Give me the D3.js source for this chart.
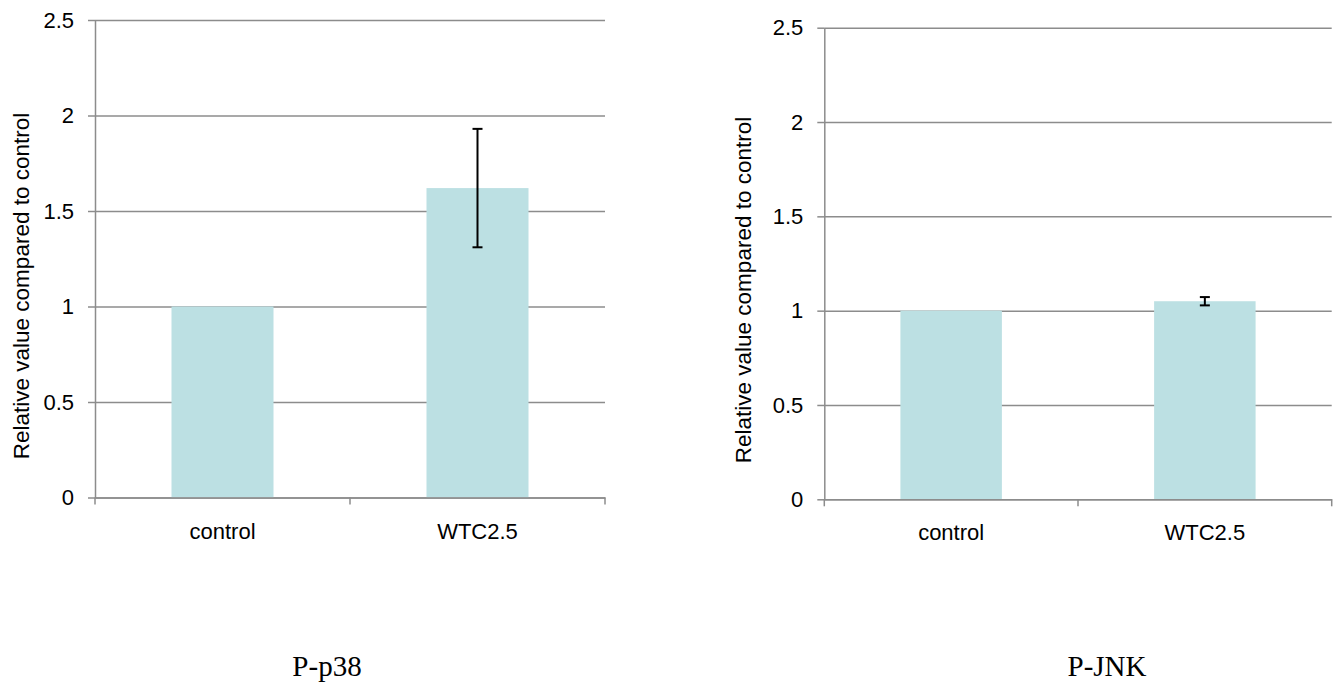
<!DOCTYPE html>
<html>
<head>
<meta charset="utf-8">
<script src="https://cdn.jsdelivr.net/npm/d3@7"></script>
<style>
  body { margin: 0; background: #fff; }
  .axis path, .axis line { stroke: #8c8c8c; stroke-width: 1.5; }
  .grid path { display: none; }
  .grid line { stroke: #8c8c8c; stroke-width: 1.5; }
</style>
</head>
<body>
<svg id="chart"></svg>
<script>
// data
let categories = ["control", "WTC2.5"]
let yTicks = [0, 0.5, 1, 1.5, 2, 2.5]

let p38Values = [1, 1.62]
let p38Errors = [0, 0.31]

let jnkValues = [1, 1.05]
let jnkErrors = [0, 0.022]

let yTitle = "Relative value compared to control"

let width = 1342
let height = 685
let barColor = "#bce0e3"

let svg = d3.select("#chart")
    .attr("width", width)
    .attr("height", height)

function drawPanel(values, errors, label, box) {

    let xScale = d3.scaleBand()
        .domain(categories)
        .range([box.left, box.right])
        .paddingInner(0)

    let yScale = d3.scaleLinear()
        .domain([0, 2.5])
        .range([box.bottom, box.top])

    let g = svg.append("g")

    // gridlines
    g.append("g")
        .attr("class", "grid")
        .attr("transform", "translate(" + box.left + ",0)")
        .call(d3.axisLeft(yScale).tickValues(yTicks).tickSize(-(box.right - box.left)).tickFormat(""))

    // bars
    let barW = xScale.bandwidth() * 0.4
    g.selectAll(".bar")
        .data(categories)
        .enter()
        .append("rect")
        .attr("class", "bar")
        .attr("x", d => xScale(d) + (xScale.bandwidth() - barW) / 2)
        .attr("width", barW)
        .attr("y", (d, i) => yScale(values[i]))
        .attr("height", (d, i) => yScale(0) - yScale(values[i]))
        .attr("fill", barColor)

    // error bars
    let errData = categories.map((c, i) => ({c: c, v: values[i], e: errors[i]})).filter(d => d.e > 0)
    let errG = g.selectAll(".err")
        .data(errData)
        .enter()
        .append("g")
        .attr("class", "err")
        .attr("stroke", "#000")
        .attr("stroke-width", 2)

    errG.append("line")
        .attr("x1", d => xScale(d.c) + xScale.bandwidth() / 2)
        .attr("x2", d => xScale(d.c) + xScale.bandwidth() / 2)
        .attr("y1", d => yScale(d.v - d.e))
        .attr("y2", d => yScale(d.v + d.e))

    errG.each(function(d) {
        let cx = xScale(d.c) + xScale.bandwidth() / 2
        ;[d.v - d.e, d.v + d.e].forEach(v => {
            d3.select(this).append("line")
                .attr("x1", cx - 5)
                .attr("x2", cx + 5)
                .attr("y1", yScale(v))
                .attr("y2", yScale(v))
        })
    })

    // y axis
    let yAxis = g.append("g")
        .attr("class", "axis")
        .attr("transform", "translate(" + box.left + ",0)")
        .call(d3.axisLeft(yScale).tickValues(yTicks).tickSize(7).tickSizeOuter(0).tickPadding(14).tickFormat(d3.format("~g")))

    yAxis.selectAll("text")
        .attr("fill", "#000")
        .attr("font-family", "Liberation Sans, Arial, sans-serif")
        .attr("font-size", 22)

    // x axis, ticks on the category boundaries
    let xAxis = g.append("g")
        .attr("class", "axis")
        .attr("transform", "translate(0," + box.bottom + ")")
        .call(d3.axisBottom(xScale).tickSize(0).tickSizeOuter(0))

    xAxis.selectAll("text")
        .attr("y", 41)
        .attr("dy", 0)
        .attr("fill", "#000")
        .attr("font-family", "Liberation Sans, Arial, sans-serif")
        .attr("font-size", 22)

    let bounds = categories.map(c => xScale(c)).concat([box.right])
    xAxis.selectAll(".bound")
        .data(bounds)
        .enter()
        .append("line")
        .attr("class", "bound")
        .attr("x1", d => d)
        .attr("x2", d => d)
        .attr("y1", 0)
        .attr("y2", 7)

    // y title
    g.append("text")
        .text(yTitle)
        .attr("font-family", "Liberation Sans, Arial, sans-serif")
        .attr("font-size", 22.5)
        .attr("text-anchor", "middle")
        .attr("transform", "translate(" + box.titleX + "," + box.titleY + "), rotate(-90)")

    // panel label
    svg.append("text")
        .text(label)
        .attr("font-family", "Liberation Serif, Times New Roman, serif")
        .attr("font-size", 29)
        .attr("text-anchor", "middle")
        .attr("x", box.labelX)
        .attr("y", 676)
}

drawPanel(p38Values, p38Errors, "P-p38", {left: 95, right: 605, top: 20, bottom: 497.5, titleX: 29, titleY: 286, labelX: 327})
drawPanel(jnkValues, jnkErrors, "P-JNK", {left: 824.3, right: 1331.7, top: 27.7, bottom: 499.3, titleX: 751, titleY: 290, labelX: 1107})
</script>
</body>
</html>
